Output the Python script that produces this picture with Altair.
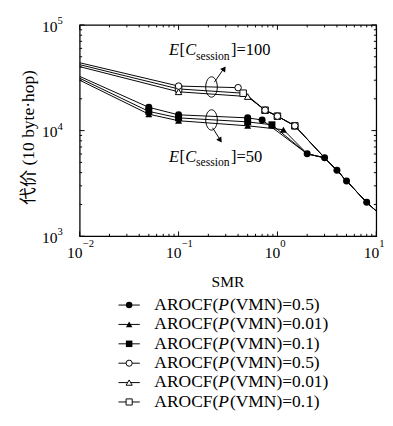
import altair as alt
import pandas as pd

# ---------------- data ----------------
SERIES_KEYS = ["E50_P0.5", "E50_P0.01", "E50_P0.1", "E100_P0.5", "E100_P0.01", "E100_P0.1"]
P_LABELS = ["0.5", "0.01", "0.1", "0.5", "0.01", "0.1"]
SHAPES = ["circle", "triangle-up", "square", "circle", "triangle-up", "square"]
FILLED = [True, True, True, False, False, False]
DRAW_RANK = [2, 1, 0, 2, 1, 0]

# E[C_session]=50 (filled markers)
smr_e50_p05 = [0.01, 0.05, 0.1, 0.5, 0.7, 2, 3, 4, 5, 8, 10]
cost_e50_p05 = [32600, 16600, 14100, 13200, 12600, 6030, 5530, 4210, 3330, 2100, 1730]
smr_e50_p001 = [0.01, 0.05, 0.1, 0.5, 1.15, 2, 3, 4, 5, 8, 10]
cost_e50_p001 = [30000, 14300, 12400, 11100, 10200, 6030, 5530, 4210, 3330, 2100, 1730]
smr_e50_p01 = [0.01, 0.05, 0.1, 0.5, 0.88, 2, 3, 4, 5, 8, 10]
cost_e50_p01 = [31300, 15200, 13200, 12100, 11350, 6030, 5530, 4210, 3330, 2100, 1730]

# E[C_session]=100 (open markers)
smr_e100_p05 = [0.01, 0.1, 0.4, 0.75, 1.0, 1.5, 3, 4, 5, 8, 10]
cost_e100_p05 = [43900, 26400, 25500, 15600, 13700, 11100, 5530, 4210, 3330, 2100, 1730]
smr_e100_p001 = [0.01, 0.1, 0.5, 0.75, 1.0, 1.5, 3, 4, 5, 8, 10]
cost_e100_p001 = [40300, 23300, 21000, 15600, 13700, 11100, 5530, 4210, 3330, 2100, 1730]
smr_e100_p01 = [0.01, 0.1, 0.45, 0.75, 1.0, 1.5, 3, 4, 5, 8, 10]
cost_e100_p01 = [42100, 24800, 22600, 15600, 13700, 11100, 5530, 4210, 3330, 2100, 1730]

SMR_LISTS = [smr_e50_p05, smr_e50_p001, smr_e50_p01, smr_e100_p05, smr_e100_p001, smr_e100_p01]
COST_LISTS = [cost_e50_p05, cost_e50_p001, cost_e50_p01, cost_e100_p05, cost_e100_p001, cost_e100_p01]
# last SMR (exclusive) that still carries a visible marker of its own
MARK_LIMIT = [10, 2, 2, 3, 3, 3]

X_MAJOR = [0.01, 0.1, 1, 10]
X_EXP = ["\u22122", "\u22121", "0", "1"]
Y_MAJOR = [1000, 10000, 100000]
Y_EXP = ["3", "4", "5"]
MINOR_MULT = [2, 3, 4, 5, 6, 7, 8, 9]

# ---------------- build tables ----------------
rows = []
for key, shp, fil, rk, lim, xs_, ys_ in zip(SERIES_KEYS, SHAPES, FILLED, DRAW_RANK,
                                            MARK_LIMIT, SMR_LISTS, COST_LISTS):
    for xv, yv in zip(xs_, ys_):
        rows.append({"series": key, "smr": xv, "cost": yv, "shape": shp, "rank": rk,
                     "filled": fil, "mark": (xv > 0.01) and (xv < lim)})
df = pd.DataFrame(rows)

x_minor = [m * d for d in [0.01, 0.1, 1] for m in MINOR_MULT]
y_minor = [m * d for d in [1000, 10000] for m in MINOR_MULT]

W, H = 306, 218
FONT = "Liberation Serif"
one = pd.DataFrame({"a": [0]})

xs = alt.Scale(type="log", domain=[0.01, 10], nice=False)
ys = alt.Scale(type="log", domain=[1000, 100000], nice=False)
X = alt.X("smr:Q", scale=xs, axis=None)
Y = alt.Y("cost:Q", scale=ys, axis=None)

layers = []

# lines
layers.append(alt.Chart(df).mark_line(color="black", strokeWidth=1).encode(
    x=X, y=Y, detail="series:N", order="smr:Q"))
# open markers
layers.append(alt.Chart(df).transform_filter("datum.mark && !datum.filled").mark_point(
    filled=True, fill="white", stroke="black", strokeWidth=1, size=45, opacity=1).encode(
    x=X, y=Y, shape=alt.Shape("shape:N", scale=None), order="rank:Q"))
# filled markers
layers.append(alt.Chart(df).transform_filter("datum.mark && datum.filled").mark_point(
    filled=True, color="black", size=52, opacity=1).encode(
    x=X, y=Y, shape=alt.Shape("shape:N", scale=None), order="rank:Q"))

# inward ticks
def xticks(vals, length):
    d = pd.DataFrame({"smr": vals})
    b = alt.Chart(d).mark_rule(color="black", strokeWidth=1).encode(
        x=X, y=alt.value(H), y2=alt.value(H - length))
    t = alt.Chart(d).mark_rule(color="black", strokeWidth=1).encode(
        x=X, y=alt.value(0), y2=alt.value(length))
    return [b, t]

def yticks(vals, length):
    d = pd.DataFrame({"cost": vals})
    l = alt.Chart(d).mark_rule(color="black", strokeWidth=1).encode(
        y=Y, x=alt.value(0), x2=alt.value(length))
    r = alt.Chart(d).mark_rule(color="black", strokeWidth=1).encode(
        y=Y, x=alt.value(W), x2=alt.value(W - length))
    return [l, r]

layers += xticks(X_MAJOR, 5) + xticks(x_minor, 2.5)
layers += yticks(Y_MAJOR, 5) + yticks(y_minor, 2.5)

# tick labels
xl = pd.DataFrame({"smr": X_MAJOR, "exp": X_EXP})
layers.append(alt.Chart(xl).mark_text(text="10", font=FONT, fontSize=16, align="right",
                                      baseline="middle", dx=3, color="black").encode(
    x=X, y=alt.value(235)))
layers.append(alt.Chart(xl).mark_text(font=FONT, fontSize=11, align="left",
                                      baseline="middle", dx=3, color="black").encode(
    x=X, y=alt.value(226), text="exp:N"))
yl = pd.DataFrame({"cost": Y_MAJOR, "exp": Y_EXP})
layers.append(alt.Chart(yl).mark_text(text="10", font=FONT, fontSize=16, align="right",
                                      baseline="middle", dy=2, color="black").encode(
    y=Y, x=alt.value(-23)))
layers.append(alt.Chart(yl).mark_text(font=FONT, fontSize=11, align="left",
                                      baseline="middle", dy=-4, color="black").encode(
    y=Y, x=alt.value(-23), text="exp:N"))

def label(text, x, y, size=17, italic=False, align="left", angle=0, font=FONT):
    return alt.Chart(one).mark_text(text=text, font=font, fontSize=size,
                                    fontStyle="italic" if italic else "normal",
                                    align=align, baseline="middle", angle=angle,
                                    color="black").encode(x=alt.value(x), y=alt.value(y))

# axis titles
layers.append(label("SMR", W / 2, 265, size=16, align="center"))
layers.append(label("代价 (10 byte·hop)", -52, 116, size=18, align="center", angle=270,
                    font="Liberation Serif, Noto Sans CJK SC"))

# annotations E[C_session]=...
def ecs(value, x, y):
    out = []
    out.append(label("E", x, y, italic=True))
    out.append(label("[", x + 11, y))
    out.append(label("C", x + 17, y, italic=True))
    out.append(label("session", x + 28, y + 6, size=12))
    out.append(label("]=" + value, x + 64, y))
    return out

layers += ecs("100", 92, 26)
layers += ecs("50", 92, 136)

# ellipses and arrows
ELL = "M0,-1C0.315,-1,0.57,-0.552,0.57,0C0.57,0.552,0.315,1,0,1C-0.315,1,-0.57,0.552,-0.57,0C-0.57,-0.552,-0.315,-1,0,-1Z"
for cy in [64, 98]:
    layers.append(alt.Chart(one).mark_point(shape=ELL, size=441, filled=False, color="black",
                                            strokeWidth=1, opacity=1).encode(
        x=alt.value(136), y=alt.value(cy)))
# upper arrow
layers.append(alt.Chart(one).mark_rule(color="black", strokeWidth=1).encode(
    x=alt.value(139), y=alt.value(59), x2=alt.value(148), y2=alt.value(46)))
layers.append(alt.Chart(one).mark_point(shape="triangle-up", size=40, filled=True, color="black",
                                        angle=34, opacity=1).encode(
    x=alt.value(149), y=alt.value(45)))
# lower arrow
layers.append(alt.Chart(one).mark_rule(color="black", strokeWidth=1).encode(
    x=alt.value(137), y=alt.value(106), x2=alt.value(144), y2=alt.value(117)))
layers.append(alt.Chart(one).mark_point(shape="triangle-up", size=40, filled=True, color="black",
                                        angle=146, opacity=1).encode(
    x=alt.value(145), y=alt.value(119)))

# legend
for i, (p, shp, fil) in enumerate(zip(P_LABELS, SHAPES, FILLED)):
    ry = 289 + 20 * i
    layers.append(alt.Chart(one).mark_rule(color="black", strokeWidth=1).encode(
        x=alt.value(40), x2=alt.value(62), y=alt.value(ry)))
    if fil:
        layers.append(alt.Chart(one).mark_point(shape=shp, size=45, filled=True, color="black",
                                                opacity=1).encode(x=alt.value(51), y=alt.value(ry)))
    else:
        layers.append(alt.Chart(one).mark_point(shape=shp, size=40, filled=True, fill="white",
                                                stroke="black", strokeWidth=1, opacity=1).encode(
            x=alt.value(51), y=alt.value(ry)))
    layers.append(label("AROCF(", 77, ry, size=18))
    layers.append(label("P", 143, ry, size=18, italic=True))
    layers.append(label("(VMN)=" + p + ")", 155, ry, size=18))

chart = alt.layer(*layers).properties(
    width=W, height=H,
    padding={"left": 13, "top": 1, "right": 0, "bottom": 0},
).configure_view(stroke="black", strokeWidth=1.3)

chart.save("out.html", embed_options={"renderer": "svg", "actions": False})
